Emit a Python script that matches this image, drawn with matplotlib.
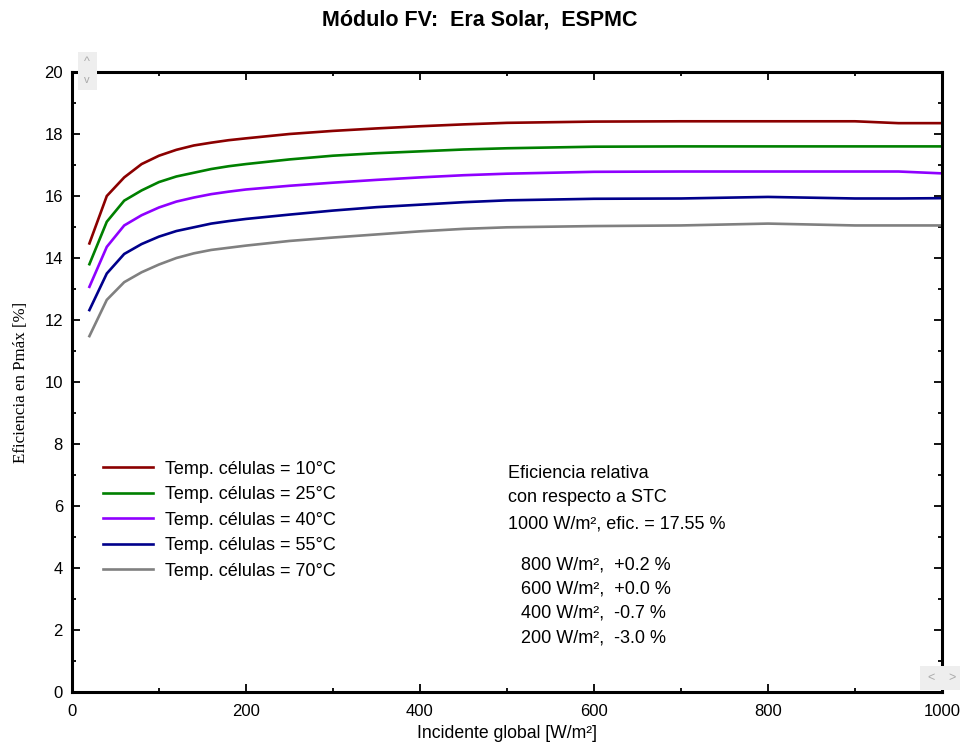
import matplotlib
matplotlib.use("Agg")
import matplotlib.pyplot as plt
from matplotlib.patches import Rectangle
from matplotlib.ticker import MultipleLocator

# ---- data ----
irradiance = [20, 40, 60, 80, 100, 120, 140, 160, 180, 200, 250, 300, 350, 400,
              450, 500, 600, 700, 800, 900, 950, 1000]
eff_10 = [14.47, 16.00, 16.60, 17.03, 17.30, 17.49, 17.63, 17.72, 17.80, 17.86, 18.00,
          18.10, 18.18, 18.25, 18.31, 18.36, 18.40, 18.41, 18.41, 18.41, 18.35, 18.35]
eff_25 = [13.80, 15.17, 15.85, 16.18, 16.45, 16.63, 16.75, 16.87, 16.96, 17.03, 17.18,
          17.30, 17.38, 17.44, 17.50, 17.54, 17.59, 17.60, 17.60, 17.60, 17.60, 17.60]
eff_40 = [13.07, 14.36, 15.05, 15.38, 15.63, 15.82, 15.95, 16.06, 16.14, 16.21, 16.33,
          16.43, 16.52, 16.60, 16.67, 16.72, 16.78, 16.79, 16.79, 16.79, 16.79, 16.73]
eff_55 = [12.32, 13.50, 14.13, 14.45, 14.69, 14.87, 14.99, 15.11, 15.19, 15.26, 15.40,
          15.53, 15.64, 15.72, 15.80, 15.86, 15.91, 15.92, 15.97, 15.92, 15.92, 15.93]
eff_70 = [11.48, 12.65, 13.22, 13.54, 13.79, 14.00, 14.15, 14.26, 14.33, 14.40, 14.55,
          14.66, 14.76, 14.86, 14.94, 14.99, 15.03, 15.05, 15.11, 15.05, 15.05, 15.05]
series = [eff_10, eff_25, eff_40, eff_55, eff_70]
labels = ["Temp. células = 10°C", "Temp. células = 25°C", "Temp. células = 40°C",
          "Temp. células = 55°C", "Temp. células = 70°C"]
colors = ["#8b0000", "#008000", "#8f00ff", "#00008b", "#808080"]

info_lines = ["Eficiencia relativa", "con respecto a STC", "1000 W/m², efic. = 17.55 %"]
rel_lines = ["800 W/m²,  +0.2 %", "600 W/m²,  +0.0 %", "400 W/m²,  -0.7 %", "200 W/m²,  -3.0 %"]

plt.rcParams['font.family'] = ['Liberation Sans', 'DejaVu Sans']

fig = plt.figure(figsize=(9.65, 7.44), dpi=100)
ax = fig.add_axes([72/965, 52/744, 870/965, 620/744])

for y, c, lab in zip(series, colors, labels):
    ax.plot(irradiance, y, color=c, lw=1.9, label=lab, solid_joinstyle='miter')

ax.set_xlim(0, 1000)
ax.set_ylim(0, 20)
ax.xaxis.set_major_locator(MultipleLocator(200))
ax.xaxis.set_minor_locator(MultipleLocator(100))
ax.yaxis.set_major_locator(MultipleLocator(2))
ax.yaxis.set_minor_locator(MultipleLocator(1))
ax.tick_params(which='both', direction='in', top=True, right=True, width=1.3,
               labelsize=12, colors='black')
ax.tick_params(which='major', length=6)
ax.tick_params(which='minor', length=3)
ax.tick_params(axis='x', pad=9)
ax.tick_params(axis='y', pad=6.5)
for s in ax.spines.values():
    s.set_linewidth(2.2)

ax.set_xlabel("Incidente global [W/m²]", fontsize=12.7, labelpad=4)
ax.set_ylabel("Eficiencia en Pmáx [%]", fontsize=12.2,
              family=['Liberation Serif', 'DejaVu Serif'], labelpad=11)
fig.text(480/965, 1 - 20/744, "Módulo FV:  Era Solar,  ESPMC", ha='center', va='center',
         fontsize=15.5, fontweight='bold')

leg = ax.legend(loc='upper left', bbox_to_anchor=(0.0356, 0.373), frameon=False,
                fontsize=13, handlelength=2.78, handletextpad=0.67, labelspacing=0.47,
                borderaxespad=0, borderpad=0)

# info text block
ys = [474, 498, 524]
for t, yp in zip(info_lines, ys):
    fig.text(508/965, 1 - yp/744, t, ha='left', va='center', fontsize=13)
ys2 = [565, 589, 613, 638]
for t, yp in zip(rel_lines, ys2):
    fig.text(521/965, 1 - yp/744, t, ha='left', va='center', fontsize=13)

# scroll widgets (decorative)
fig.patches.append(Rectangle((78/965, 1 - 90/744), 19/965, 38/744, transform=fig.transFigure,
                             facecolor='#eeeeee', edgecolor='none', zorder=0))
fig.text(87/965, 1 - 62/744, "^", ha='center', va='center', fontsize=9, color='#aaaaaa')
fig.text(87/965, 1 - 80/744, "v", ha='center', va='center', fontsize=8, color='#aaaaaa')
fig.patches.append(Rectangle((920/965, 1 - 690/744), 40/965, 24/744, transform=fig.transFigure,
                             facecolor='#eeeeee', edgecolor='none', zorder=0))
fig.text(931/965, 1 - 678/744, "<", ha='center', va='center', fontsize=9, color='#aaaaaa')
fig.text(952/965, 1 - 678/744, ">", ha='center', va='center', fontsize=9, color='#aaaaaa')

fig.savefig("out.png", dpi=100)
